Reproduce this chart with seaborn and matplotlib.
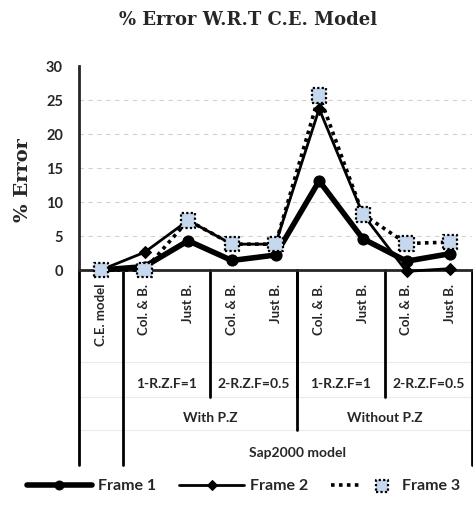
"""
% Error W.R.T C.E. Model - recreated with seaborn.
"""
import matplotlib
matplotlib.use("Agg")
import matplotlib.pyplot as plt
import matplotlib.transforms as mtransforms
from matplotlib.legend_handler import HandlerTuple
import pandas as pd
import seaborn as sns

# ---- data -----------------------------------------------------------------
categories = ["C.E. model", "Col. & B.", "Just B.", "Col. & B.", "Just B.",
              "Col. & B.", "Just B.", "Col. & B.", "Just B."]
frame1 = [0.0, 0.5, 4.3, 1.4, 2.2, 13.1, 4.6, 1.3, 2.4]
frame2 = [0.0, 2.6, 7.3, 3.8, 3.8, 23.7, 8.2, -0.2, 0.2]
frame3 = [0.0, 0.0, 7.3, 3.8, 3.8, 25.7, 8.2, 3.9, 4.1]

# multi level category groups: (label, first index, last index)
level2 = [("1-R.Z.F=1", 1, 2), ("2-R.Z.F=0.5", 3, 4),
          ("1-R.Z.F=1", 5, 6), ("2-R.Z.F=0.5", 7, 8)]
level3 = [("With P.Z", 1, 4), ("Without P.Z", 5, 8)]
level4 = [("Sap2000 model", 1, 8)]

df = pd.DataFrame({"pos": range(len(categories)),
                   "Frame 1": frame1, "Frame 2": frame2, "Frame 3": frame3})

# ---- figure ---------------------------------------------------------------
sns.set_style("white")
plt.rcParams["font.family"] = ["Lato", "DejaVu Sans"]

fig = plt.figure(figsize=(4.73, 5.05), dpi=100)
ax = fig.add_axes([79 / 473, 1 - 270 / 505, 393 / 473, 204 / 505])

sns.lineplot(data=df, x="pos", y="Frame 1", ax=ax, color="black", lw=4,
             marker="o", markersize=8, mec="black", label="Frame 1",
             clip_on=False, zorder=3)
sns.lineplot(data=df, x="pos", y="Frame 2", ax=ax, color="black", lw=2,
             marker="D", markersize=6, mec="black", label="Frame 2",
             clip_on=False, zorder=4)
sns.lineplot(data=df, x="pos", y="Frame 3", ax=ax, color="black", lw=2.6,
             ls=(0, (1, 1.2)), label="Frame 3", clip_on=False, zorder=5)
sc3 = ax.scatter(df["pos"], df["Frame 3"], marker="s", s=110, color="#c6d8ee",
                 edgecolors="black", linewidths=1.6, linestyle=(0, (1, 1)),
                 clip_on=False, zorder=6)

ax.set_xlim(-0.5, len(categories) - 0.5)
ax.set_ylim(0, 30)
ax.set_yticks(range(0, 31, 5))
ax.yaxis.grid(True, color="#d0d0d0", ls=(0, (4, 4)), lw=0.8)
ax.get_ygridlines()[-1].set_visible(False)
ax.get_ygridlines()[0].set_visible(False)
ax.set_axisbelow(True)

for s in ["top", "right"]:
    ax.spines[s].set_visible(False)
ax.spines["left"].set_linewidth(2)
ax.spines["bottom"].set_linewidth(2)

ax.set_xticks(df["pos"])
ax.set_xticklabels(categories, rotation=90, fontsize=9.5, fontweight="bold",
                   va="top", ha="center")
ax.tick_params(axis="x", length=0, pad=10)
ax.tick_params(axis="y", length=0, pad=11.5)
for t in ax.get_yticklabels():
    t.set_fontweight("bold")
    t.set_fontsize(10.5)

ax.set_xlabel("")
ax.set_ylabel("% Error", fontsize=14, fontweight="bold", family="DejaVu Serif")
ax.yaxis.set_label_coords(-0.12, 0.44)

fig.suptitle("% Error W.R.T C.E. Model", fontsize=13, fontweight="bold",
             family="DejaVu Serif", y=1 - 20 / 505, x=0.525, va="center")

# ---- multi level category axis --------------------------------------------
trans = mtransforms.blended_transform_factory(ax.transData, ax.transAxes)
px = 1 / 204  # one pixel in axes fraction (vertical)
y_l2, y_l3, y_l4 = -(397 - 270) * px, -(430 - 270) * px, -(465 - 270) * px
row_lines = [-(362 - 270) * px, y_l2, y_l3]

for yl in row_lines:
    ax.plot([-0.5, 8.5], [yl, yl], transform=trans, color="#ececec", lw=0.8,
            clip_on=False, zorder=0)

# outer boundaries full height
for xb in [-0.5, 0.5, 8.5]:
    ax.plot([xb, xb], [0, y_l4], transform=trans, color="black", lw=2,
            clip_on=False)
# inner group boundaries
for _, a, b in level2[:-1]:
    ax.plot([b + 0.5, b + 0.5], [0, y_l2], transform=trans, color="black",
            lw=2, clip_on=False)
for _, a, b in level3[:-1]:
    ax.plot([b + 0.5, b + 0.5], [0, y_l3], transform=trans, color="black",
            lw=2, clip_on=False)

lab_kw = dict(transform=trans, ha="center", va="center", fontsize=10,
              fontweight="bold")
for lab, a, b in level2:
    ax.text((a + b) / 2, -(384 - 270) * px, lab, **lab_kw)
for lab, a, b in level3:
    ax.text((a + b) / 2, -(418 - 270) * px, lab, **lab_kw)
for lab, a, b in level4:
    ax.text((a + b) / 2, -(453 - 270) * px, lab, **lab_kw)

# ---- legend ---------------------------------------------------------------
handles, labels = ax.get_legend_handles_labels()
ax.get_legend().remove()
handles[2] = (handles[2], sc3)
fig.legend(handles, labels, loc="center", bbox_to_anchor=(0.515, 1 - 486 / 505),
           ncol=3, frameon=False, handlelength=4.1, columnspacing=1.45,
           handletextpad=0.35, scatterpoints=1, markerscale=0.8,
           prop={"weight": "bold", "size": 11.5},
           handler_map={tuple: HandlerTuple(ndivide=None)})

fig.savefig("out.png", dpi=100)
